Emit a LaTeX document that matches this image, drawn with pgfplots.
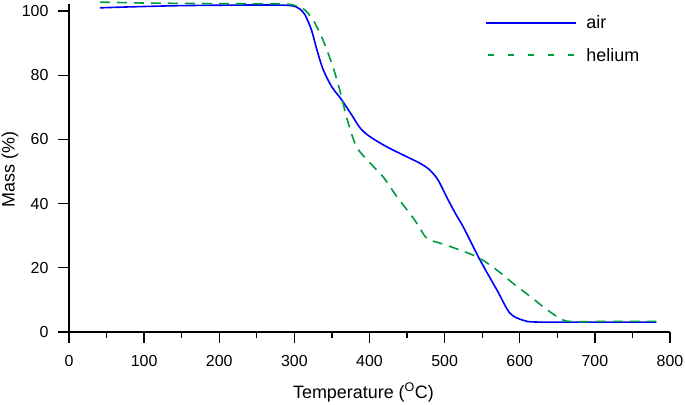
\documentclass[border=0pt]{standalone}
\usepackage{fontspec}
\setmainfont{Liberation Sans}
\usepackage{pgfplots}
\pgfplotsset{compat=1.18}
\definecolor{airblue}{RGB}{0,0,255}
\definecolor{hegreen}{RGB}{0,155,65}
\begin{document}
\begin{tikzpicture}[font=\fontsize{18}{21}\selectfont]
\useasboundingbox (-69bp,-73bp) rectangle (616bp,332bp);
\begin{axis}[
 scale only axis, width=601bp, height=328bp,
 xmin=0, xmax=800, ymin=0, ymax=102.2,
 axis x line*=bottom, axis y line*=left,
 axis line style={line width=1.3bp,-},
 xtick={0,100,...,800}, minor xtick={50,150,...,750},
 ytick={0,20,...,100},
 tick align=outside,
 major tick length=11bp, minor tick length=5.5bp,
 every tick/.style={black,line width=1.3bp},
 /pgf/number format/assume math mode=true,
 ticklabel style={font=\fontsize{16}{19}\selectfont},
 xticklabel style={yshift=-9bp},
 yticklabel style={xshift=-6bp},
 xlabel={Temperature (\textsuperscript{O}C)},
 ylabel={Mass (\%)},
 xlabel style={at={(rel axis cs:0.5,0)}, anchor=base, yshift=-66bp, xshift=-6bp},
 ylabel style={at={(rel axis cs:0,0.5)}, anchor=center, yshift=59bp, xshift=-1.5bp},
 clip=false,
 legend cell align=left,
 legend image code/.code={\draw[#1] (0bp,0bp) -- (90bp,0bp);},
 legend style={draw=none, fill=none, at={(rel axis cs:0.6925,0.9710)}, anchor=north west,
   row sep=14bp, column sep=7bp, inner sep=0pt},
]
\addplot[airblue, line width=1.6bp, smooth]
 coordinates {
 (41,101.0) (81,101.3) (152,101.7) (254,101.9) (289,101.8) (301.5,101.4) (307.6,100.6)
 (314.2,98.8) (322.9,94) (330,87.9) (338.6,81.6) (349.8,76.4) (363.1,72.3)
 (376.4,67.6) (387.8,63.5) (401,60.8) (423,57.7) (449.7,54.6) (467,52.6)
 (480.2,50.5) (491.4,47.3) (502.6,42.1) (513.7,37.2) (524.9,32.7) (547.2,22.4) (569.6,13.1)
 (586.8,5.9) (604.1,3.7) (623.4,3.1) (710.7,3.1) (781.8,3.1)
 };
\addlegendentry{air}
\addplot[hegreen, line width=1.6bp, smooth, dash pattern=on 10bp off 7bp,
  legend image post style={line width=2bp, dash pattern=on 6bp off 14bp, dash phase=-2bp}]
 coordinates {
 (41,102.8) (101.5,102.5) (203,102.3) (284.3,102.2) (299.5,101.8) (307.6,101.2)
 (314.2,100.3) (324.9,97.2) (338.1,91) (351.3,82.6) (360.4,75.4) (370.6,66) (382.8,57.7)
 (401,52.6) (418.3,48.3) (436.6,42.1) (451.8,37.5) (463,33.9) (476.2,29.2) (492.4,27.8)
 (507.7,26.6) (543.2,23.4) (569.6,19.3) (590.9,15.2) (614.3,11) (636.6,6.9) (657.9,3.7)
 (676.2,3.2) (710.7,3.3) (781.8,3.3)
 };
\addlegendentry{helium}
\end{axis}
\end{tikzpicture}
\end{document}
